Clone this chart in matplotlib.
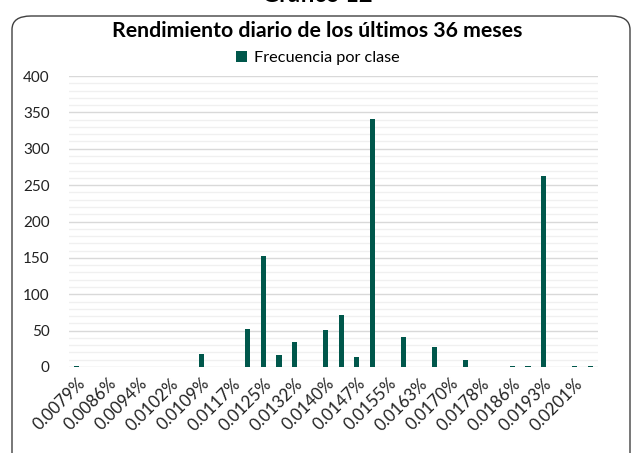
import matplotlib
matplotlib.use("Agg")
import matplotlib.pyplot as plt
from matplotlib.patches import FancyBboxPatch
from matplotlib.ticker import MultipleLocator

categories = ["0.0079%", "0.0083%", "0.0086%", "0.0090%", "0.0094%", "0.0098%",
              "0.0102%", "0.0105%", "0.0109%", "0.0113%", "0.0117%", "0.0121%",
              "0.0125%", "0.0128%", "0.0132%", "0.0136%", "0.0140%", "0.0144%",
              "0.0147%", "0.0151%", "0.0155%", "0.0159%", "0.0163%", "0.0166%",
              "0.0170%", "0.0174%", "0.0178%", "0.0182%", "0.0186%", "0.0189%",
              "0.0193%", "0.0197%", "0.0201%", "0.0205%"]
frecuencia = [1, 0, 0, 0, 0, 0, 0, 0, 18, 0, 0, 52,
              153, 16, 35, 0, 51, 71, 14, 341, 0, 41, 0, 27,
              0, 9, 0, 0, 1, 1, 262, 0, 1, 1]
yticks = [0, 50, 100, 150, 200, 250, 300, 350, 400]

plt.rcParams['font.family'] = ['Lato', 'DejaVu Sans']

fig = plt.figure(figsize=(6.35, 4.53), dpi=100)
W, H = 635, 453

# outer rounded border
border = FancyBboxPatch((12 / W, -20 / H), 618 / W, (453 - 16 + 20) / H,
                        boxstyle="round,pad=0,rounding_size=0.03",
                        transform=fig.transFigure, facecolor='none',
                        edgecolor='#404040', linewidth=1.0, zorder=5)
fig.patches.append(border)

fig.text(0.5, 1 - 2.5 / H, "Gráfico 12", ha='center', va='baseline',
         fontsize=17, fontweight='bold', color='black')

ax = fig.add_axes([69 / W, 1 - 367 / H, (598 - 69) / W, (367 - 76) / H])
ax.set_facecolor('none')
x = list(range(len(categories)))
ax.bar(x, frecuencia, width=0.33, color='#00574B', zorder=3,
       label='Frecuencia por clase')
ax.set_xlim(-0.5, len(categories) - 0.5)
ax.set_ylim(0, 400)
ax.set_yticks(yticks)
ax.set_yticklabels([str(v) for v in yticks], fontsize=11, color='#222222')
ax.yaxis.set_minor_locator(MultipleLocator(10))
ax.grid(which='major', axis='y', color='#D9D9D9', linewidth=1.0, zorder=1)
ax.grid(which='minor', axis='y', color='#F0F0F0', linewidth=1.0, zorder=0)
ax.set_axisbelow(True)
ax.set_xticks(x[::2])
ax.set_xticklabels(categories[::2], rotation=45, ha='right',
                   rotation_mode='anchor', fontsize=12.2, color='#222222')
ax.tick_params(axis='both', which='both', length=0)
ax.tick_params(axis='y', pad=14)
ax.tick_params(axis='x', pad=6)
for s in ax.spines.values():
    s.set_visible(False)

fig.text(0.5, 1 - 31 / H, "Rendimiento diario de los últimos 36 meses",
         ha='center', va='center', fontsize=15.3, fontweight='bold',
         color='black')
leg = ax.legend(loc='center', bbox_to_anchor=(0.5, 1 - 58 / H),
                bbox_transform=fig.transFigure, frameon=False, fontsize=11.7,
                handlelength=0.7, handleheight=0.7, handletextpad=0.4)

fig.savefig("out.png", dpi=100)
